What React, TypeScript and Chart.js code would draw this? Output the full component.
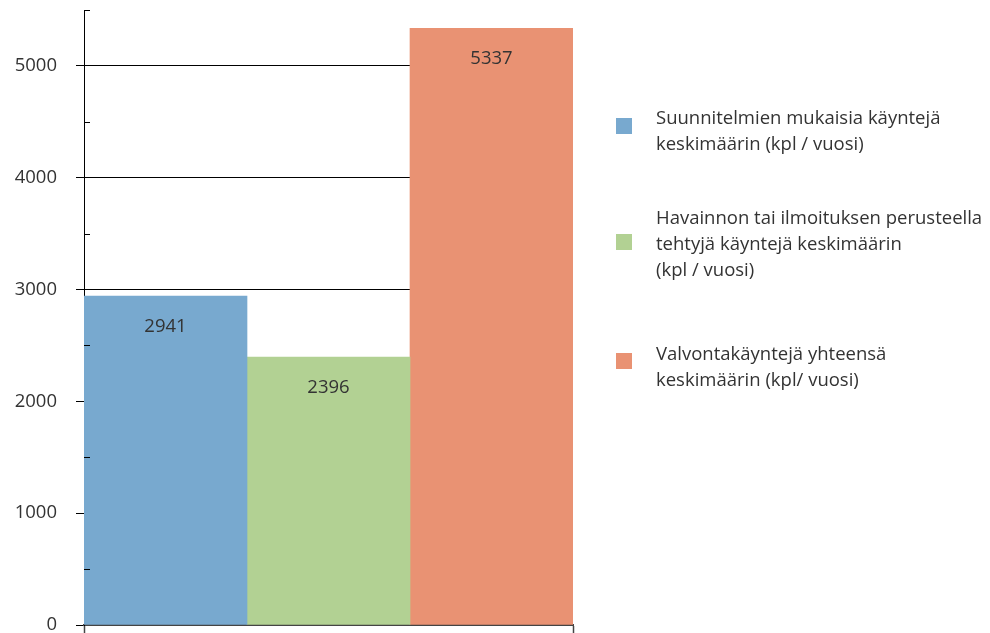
import React, { useEffect, useRef } from "react";
import { Chart, registerables } from "chart.js";

Chart.register(...registerables);

const categories = [""];
const seriesNames = [
  ["Suunnitelmien mukaisia käyntejä", "keskimäärin (kpl / vuosi)"],
  ["Havainnon tai ilmoituksen perusteella", "tehtyjä käyntejä keskimäärin", "(kpl / vuosi)"],
  ["Valvontakäyntejä yhteensä", "keskimäärin (kpl/ vuosi)"],
];
const seriesValues = [2941, 2396, 5337];
const seriesColors = ["#78A9CF", "#B2D193", "#E99273"];
const yMax = 5500;
const yStep = 500;

const FONT = "'Open Sans', sans-serif";
const FSIZE = 18.5;

const labelPlugin = {
  id: "valueLabels",
  afterDatasetsDraw(chart: any) {
    const ctx = chart.ctx;
    ctx.save();
    ctx.font = `${FSIZE}px ${FONT}`;
    ctx.fillStyle = "#333333";
    ctx.textAlign = "center";
    ctx.textBaseline = "middle";
    chart.data.datasets.forEach((ds: any, i: number) => {
      const meta = chart.getDatasetMeta(i);
      meta.data.forEach((el: any, j: number) => {
        ctx.fillText(String(ds.data[j]), el.x, el.y + 31);
      });
    });
    ctx.restore();
  },
};

const minorTickPlugin = {
  id: "minorTicks",
  afterDraw(chart: any) {
    const ctx = chart.ctx;
    const y = chart.scales.y;
    const left = chart.chartArea.left;
    ctx.save();
    ctx.strokeStyle = "#000000";
    ctx.lineWidth = 1;
    for (let v = yStep; v <= yMax; v += 1000) {
      const py = Math.round(y.getPixelForValue(v)) + 0.5;
      ctx.beginPath();
      ctx.moveTo(left, py);
      ctx.lineTo(left + 6, py);
      ctx.stroke();
    }
    ctx.restore();
  },
};

export default function App() {
  const ref = useRef<HTMLCanvasElement>(null);
  useEffect(() => {
    document.body.style.margin = "0";
    if (!ref.current) return;
    const chart = new Chart(ref.current, {
      type: "bar",
      data: {
        labels: categories,
        datasets: seriesValues.map((v, i) => ({
          label: seriesNames[i].join(" "),
          data: [v],
          backgroundColor: seriesColors[i],
          borderWidth: 0,
          barPercentage: 1,
          categoryPercentage: 1,
        })),
      },
      options: {
        animation: false,
        responsive: false,
        maintainAspectRatio: false,
        layout: { padding: { left: 0, top: 10, right: 417, bottom: 0 } },
        plugins: { legend: { display: false }, tooltip: { enabled: false } },
        scales: {
          x: {
            afterFit(scale: any) {
              scale.height = 8;
              scale.paddingLeft = 0;
              scale.paddingRight = 0;
              scale.paddingTop = 0;
              scale.paddingBottom = 0;
            },
            ticks: { display: false },
            grid: {
              display: true,
              offset: true,
              drawOnChartArea: false,
              tickLength: 8,
              tickColor: "#444444",
              tickWidth: 1.5,
            },
            border: { display: true, color: "#444444", width: 2 },
          },
          y: {
            min: 0,
            max: yMax,
            afterFit(scale: any) {
              scale.width = 84;
              scale.paddingTop = 0;
              scale.paddingBottom = 0;
              scale.paddingLeft = 0;
              scale.paddingRight = 0;
            },
            ticks: {
              stepSize: yStep,
              padding: 19,
              color: "#333333",
              font: { family: FONT, size: FSIZE },
              callback: (v: any) => (Number(v) % 1000 === 0 ? String(v) : ""),
            },
            grid: {
              color: (c: any) => (c.tick && c.tick.value % 1000 === 0 ? "#000000" : "rgba(0,0,0,0)"),
              tickColor: (c: any) => (c.tick && c.tick.value % 1000 === 0 ? "#000000" : "rgba(0,0,0,0)"),
              tickLength: 8,
              lineWidth: 1,
            },
            border: { display: true, color: "#000000", width: 1 },
          },
        },
      },
      plugins: [labelPlugin, minorTickPlugin],
    });
    return () => chart.destroy();
  }, []);

  const legendTops = [104, 204, 340];
  const squareTops = [118, 234, 353];

  return (
    <div style={{ position: "relative", width: 990, height: 633, fontFamily: FONT }}>
      <canvas ref={ref} width={990} height={633} style={{ display: "block" }} />
      {seriesNames.map((lines, i) => (
        <React.Fragment key={i}>
          <div
            style={{
              position: "absolute",
              left: 616,
              top: squareTops[i],
              width: 16,
              height: 16,
              background: seriesColors[i],
            }}
          />
          <div
            style={{
              position: "absolute",
              left: 656,
              top: legendTops[i],
              fontSize: FSIZE,
              lineHeight: "26px",
              color: "#333333",
              whiteSpace: "nowrap",
            }}
          >
            {lines.map((l, k) => (
              <div key={k}>{l}</div>
            ))}
          </div>
        </React.Fragment>
      ))}
    </div>
  );
}
